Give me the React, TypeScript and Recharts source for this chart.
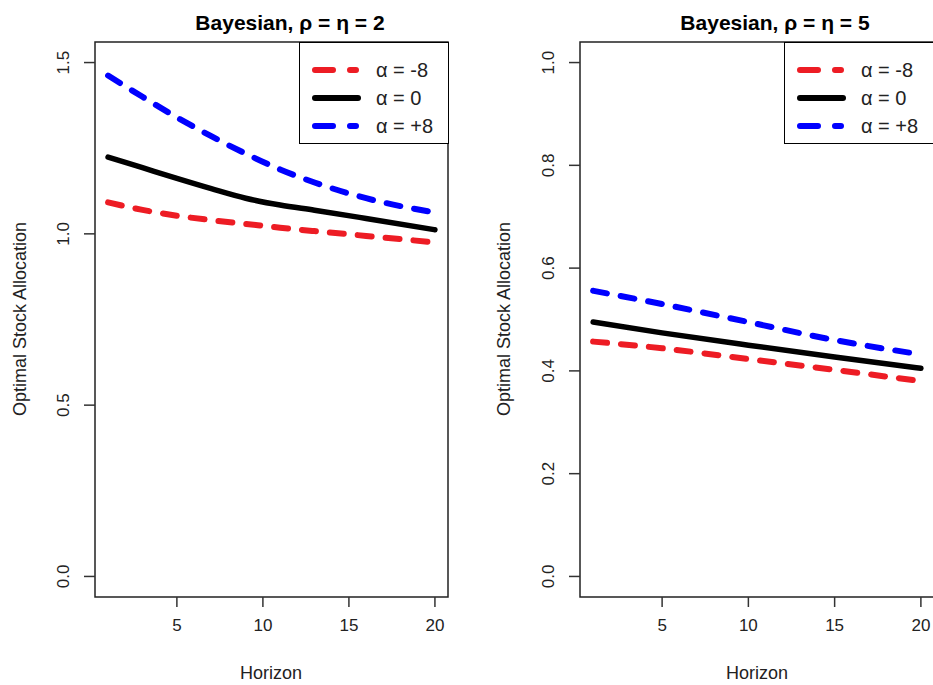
import React from 'react';
import { LineChart, Line, XAxis, YAxis, ReferenceArea, Legend } from 'recharts';

// horizons + values
const horizonsLeft = [1, 3, 5, 7, 9, 11, 13, 16, 20];
const negLeft = [1.092, 1.070, 1.053, 1.040, 1.029, 1.018, 1.008, 0.994, 0.975];
const zeroLeft = [1.224, 1.193, 1.162, 1.132, 1.104, 1.084, 1.069, 1.045, 1.012];
const posLeft = [1.462, 1.400, 1.340, 1.285, 1.234, 1.188, 1.150, 1.104, 1.062];

const horizonsRight = [1, 5, 10, 15, 20];
const negRight = [0.457, 0.444, 0.423, 0.402, 0.380];
const zeroRight = [0.495, 0.474, 0.450, 0.427, 0.405];
const posRight = [0.556, 0.530, 0.495, 0.460, 0.432];

const xTicks = [5, 10, 15, 20];
const yTicksLeft = [0, 0.5, 1.0, 1.5];
const yTicksRight = [0, 0.2, 0.4, 0.6, 0.8, 1.0];

const seriesNames = ['α = -8', 'α = 0', 'α = +8'];
const seriesColors = ['#ED1C24', '#000000', '#0000FF'];
const seriesDash = ['14 14', undefined, '14 14'];

const FONT = '"Liberation Sans", Arial, sans-serif';

const buildRows = (hs: number[], a: number[], b: number[], c: number[]) =>
  hs.map((h, i) => ({ h, neg: a[i], zero: b[i], pos: c[i] }));

const YTick = (props: any) => {
  const { x, y, payload } = props;
  const cx = x - 20;
  return (
    <text
      x={cx}
      y={y}
      transform={`rotate(-90 ${cx} ${y})`}
      textAnchor="middle"
      dominantBaseline="central"
      fontSize={17}
      fill="#222"
      fontFamily={FONT}
    >
      {Number(payload.value).toFixed(1)}
    </text>
  );
};

const LegendBox = ({ width }: { width: number }) => (
  <div style={{ width, height: 102, border: '1.5px solid #000', boxSizing: 'border-box', background: '#fff' }}>
    <svg width={width} height={100} style={{ display: 'block' }}>
      {seriesNames.map((name, i) => {
        const y = 27 + i * 28;
        return (
          <g key={name}>
            <line
              x1={15}
              x2={seriesDash[i] ? 56 : 58}
              y1={y}
              y2={y}
              stroke={seriesColors[i]}
              strokeWidth={6}
              strokeLinecap="round"
              strokeDasharray={seriesDash[i] ? '18 17' : undefined}
            />
            <text x={76} y={y} dominantBaseline="central" fontSize={20} fill="#222" fontFamily={FONT}>
              {name}
            </text>
          </g>
        );
      })}
    </svg>
  </div>
);

interface PanelProps {
  rows: any[];
  width: number;
  marginLeft: number;
  yDomain: [number, number];
  yTicks: number[];
  legendLeft: number;
  legendWidth: number;
}

const Panel: React.FC<PanelProps> = ({ rows, width, marginLeft, yDomain, yTicks, legendLeft, legendWidth }) => (
  <LineChart width={width} height={685} data={rows} margin={{ top: 42, right: 18, left: marginLeft, bottom: 48 }}>
    <XAxis
      dataKey="h"
      type="number"
      domain={[0.24, 20.76]}
      ticks={xTicks}
      allowDataOverflow
      height={40}
      axisLine={false}
      tickSize={10}
      tickMargin={12}
      tickLine={{ stroke: '#333', strokeWidth: 1.5 }}
      tick={{ fontSize: 17, fill: '#222', fontFamily: FONT }}
    />
    <YAxis
      type="number"
      domain={yDomain}
      ticks={yTicks}
      allowDataOverflow
      width={60}
      axisLine={false}
      tickSize={11}
      tickMargin={0}
      tickLine={{ stroke: '#333', strokeWidth: 1.5 }}
      tick={<YTick />}
    />
    <ReferenceArea
      x1={0.24}
      x2={20.76}
      y1={yDomain[0]}
      y2={yDomain[1]}
      fill="none"
      fillOpacity={0}
      stroke="#222"
      strokeWidth={1.5}
    />
    {['neg', 'zero', 'pos'].map((key, i) => (
      <Line
        key={key}
        dataKey={key}
        type="monotone"
        stroke={seriesColors[i]}
        strokeWidth={i === 1 ? 5.5 : 6}
        strokeDasharray={seriesDash[i]}
        strokeLinecap="round"
        dot={false}
        activeDot={false}
        isAnimationActive={false}
      />
    ))}
    <Legend
      verticalAlign="middle"
      align="center"
      wrapperStyle={{ left: legendLeft, top: 42, width: legendWidth, height: 102 }}
      content={() => <LegendBox width={legendWidth} />}
    />
  </LineChart>
);

export default function App() {
  const leftRows = buildRows(horizonsLeft, negLeft, zeroLeft, posLeft);
  const rightRows = buildRows(horizonsRight, negRight, zeroRight, posRight);

  return (
    <div
      style={{
        position: 'absolute',
        left: 0,
        top: 0,
        width: 933,
        height: 685,
        overflow: 'hidden',
        background: '#fff',
        fontFamily: FONT,
      }}
    >
      <div style={{ position: 'absolute', left: 0, top: 0 }}>
        <Panel
          rows={leftRows}
          width={466}
          marginLeft={35}
          yDomain={[-0.06, 1.56]}
          yTicks={yTicksLeft}
          legendLeft={299}
          legendWidth={150}
        />
      </div>
      <div style={{ position: 'absolute', left: 466, top: 0 }}>
        <Panel
          rows={rightRows}
          width={486}
          marginLeft={54}
          yDomain={[-0.04, 1.04]}
          yTicks={yTicksRight}
          legendLeft={318}
          legendWidth={170}
        />
      </div>
      <svg width={933} height={685} style={{ position: 'absolute', left: 0, top: 0, pointerEvents: 'none' }}>
        <text x={290} y={30} textAnchor="middle" fontSize={21} fontWeight="bold" fill="#000" fontFamily={FONT}>
          Bayesian, ρ = η = 2
        </text>
        <text x={775} y={30} textAnchor="middle" fontSize={21} fontWeight="bold" fill="#000" fontFamily={FONT}>
          Bayesian, ρ = η = 5
        </text>
        <text x={271} y={679} textAnchor="middle" fontSize={18} fill="#222" fontFamily={FONT}>
          Horizon
        </text>
        <text x={757} y={679} textAnchor="middle" fontSize={18} fill="#222" fontFamily={FONT}>
          Horizon
        </text>
        <text x={20} y={319} transform="rotate(-90 20 319)" textAnchor="middle" dominantBaseline="central" fontSize={18} fill="#222" fontFamily={FONT}>
          Optimal Stock Allocation
        </text>
        <text x={504} y={319} transform="rotate(-90 504 319)" textAnchor="middle" dominantBaseline="central" fontSize={18} fill="#222" fontFamily={FONT}>
          Optimal Stock Allocation
        </text>
      </svg>
    </div>
  );
}
